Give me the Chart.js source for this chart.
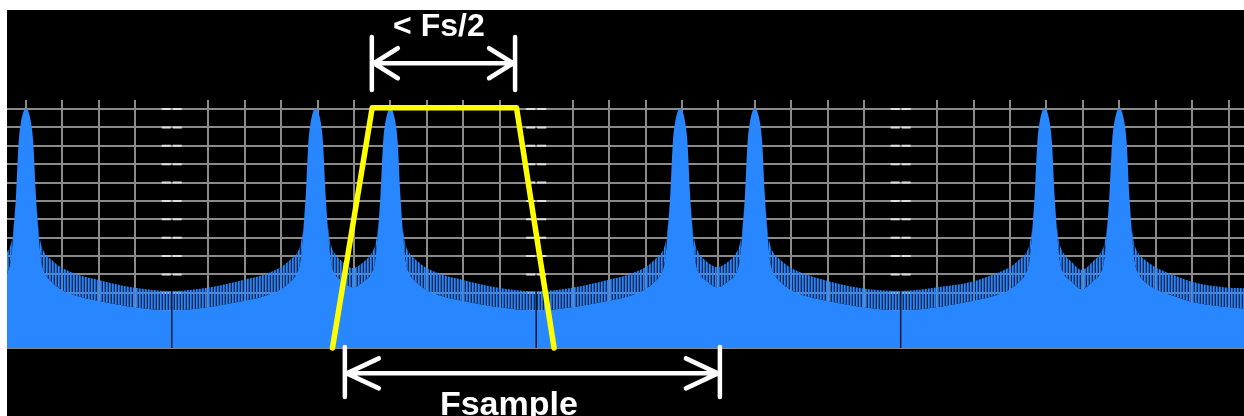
<!DOCTYPE html>
<html>
<head>
<meta charset="utf-8">
<title>Aliasing spectrum</title>
<script src="https://cdn.jsdelivr.net/npm/chart.js@4.4.1/dist/chart.umd.min.js"></script>
<style>
  html, body { margin: 0; padding: 0; background: #fff; }
  body { width: 1244px; height: 416px; overflow: hidden; position: relative; }
  #wrap { position: absolute; left: 7px; top: 10px; width: 1237px; height: 406px; background: #000; }
  canvas { display: block; }
</style>
</head>
<body>
<div id="wrap"><canvas id="spectrum" width="1237" height="406"></canvas></div>
<script>
// Frequency in grid divisions (10 divisions = Fsample), level in grid divisions
const freqs = [
    -0.52,
    -0.42, -0.35, -0.27, -0.2, -0.14, -0.1, -0.06, 0, 0.06, 0.1, 0.14, 0.2, 0.27, 0.35, 0.42,
    0.52, 0.7, 0.95, 1.45, 2, 2.85, 4, 5.1, 5.95, 6.5, 7.0, 7.25, 7.43,
    7.53, 7.6, 7.68, 7.75, 7.81, 7.85, 7.89, 7.95, 8.01, 8.05, 8.09, 8.15, 8.22, 8.3, 8.37,
    8.47, 8.67, 8.97, 9.28, 9.48,
    9.58, 9.65, 9.73, 9.8, 9.86, 9.9, 9.94, 10, 10.06, 10.1, 10.14, 10.2, 10.27, 10.35, 10.42,
    10.52, 10.7, 10.95, 11.45, 12, 12.85, 14, 15.1, 15.95, 16.5, 17.0, 17.25, 17.43,
    17.53, 17.6, 17.68, 17.75, 17.81, 17.85, 17.89, 17.95, 18.01, 18.05, 18.09, 18.15, 18.22, 18.3, 18.37,
    18.47, 18.67, 18.97, 19.28, 19.48,
    19.58, 19.65, 19.73, 19.8, 19.86, 19.9, 19.94, 20, 20.06, 20.1, 20.14, 20.2, 20.27, 20.35, 20.42,
    20.52, 20.7, 20.95, 21.45, 22, 22.85, 24, 25.1, 25.95, 26.5, 27.0, 27.25, 27.43,
    27.53, 27.6, 27.68, 27.75, 27.81, 27.85, 27.89, 27.95, 28.01, 28.05, 28.09, 28.15, 28.22, 28.3, 28.37,
    28.47, 28.67, 28.97, 29.28, 29.48,
    29.58, 29.65, 29.73, 29.8, 29.86, 29.9, 29.94, 30, 30.06, 30.1, 30.14, 30.2, 30.27, 30.35, 30.42,
    30.52, 30.7, 30.95, 31.45, 32, 32.85, 33.42
];

// top of the comb teeth
const combTop = [
    5.2,
    5.6, 6.4, 8.4, 11.2, 12.25, 12.65, 12.9, 13.05, 12.9, 12.65, 12.25, 11.2, 8.4, 6.4, 5.6,
    5.15, 4.8, 4.4, 3.97, 3.7, 3.32, 3.1, 3.32, 3.7, 3.97, 4.4, 4.8, 5.15,
    5.6, 6.4, 8.4, 11.2, 12.25, 12.65, 12.9, 13.05, 12.9, 12.65, 12.25, 11.2, 8.4, 6.4, 5.6,
    5.15, 4.72, 4.35, 4.72, 5.15,
    5.6, 6.4, 8.4, 11.2, 12.25, 12.65, 12.9, 13.05, 12.9, 12.65, 12.25, 11.2, 8.4, 6.4, 5.6,
    5.15, 4.8, 4.4, 3.97, 3.7, 3.32, 3.08, 3.32, 3.7, 3.97, 4.4, 4.8, 5.15,
    5.6, 6.4, 8.4, 11.2, 12.25, 12.65, 12.9, 13.05, 12.9, 12.65, 12.25, 11.2, 8.4, 6.4, 5.6,
    5.15, 4.72, 4.4, 4.72, 5.15,
    5.6, 6.4, 8.4, 11.2, 12.25, 12.65, 12.9, 13.05, 12.9, 12.65, 12.25, 11.2, 8.4, 6.4, 5.6,
    5.15, 4.8, 4.4, 3.97, 3.65, 3.28, 3.1, 3.33, 3.6, 3.97, 4.4, 4.8, 5.15,
    5.6, 6.4, 8.4, 11.2, 12.25, 12.65, 12.9, 13.05, 12.9, 12.65, 12.25, 11.2, 8.4, 6.4, 5.6,
    5.15, 4.72, 4.25, 4.72, 5.15,
    5.6, 6.4, 8.4, 11.2, 12.25, 12.65, 12.9, 13.05, 12.9, 12.65, 12.25, 11.2, 8.4, 6.4, 5.6,
    5.15, 4.8, 4.45, 4.0, 3.6, 3.3, 3.25
];

// level below which the spectrum is solid
const solidLevel = [
    4.05,
    4.7, 6.1, 8.4, 11.2, 12.25, 12.65, 12.9, 13.05, 12.9, 12.65, 12.25, 11.2, 8.4, 6.1, 4.7,
    4.05, 3.6, 3.2, 2.8, 2.55, 2.25, 2.05, 2.25, 2.55, 2.8, 3.2, 3.6, 4.05,
    4.7, 6.1, 8.4, 11.2, 12.25, 12.65, 12.9, 13.05, 12.9, 12.65, 12.25, 11.2, 8.4, 6.1, 4.7,
    4.05, 3.65, 3.3, 3.65, 4.05,
    4.7, 6.1, 8.4, 11.2, 12.25, 12.65, 12.9, 13.05, 12.9, 12.65, 12.25, 11.2, 8.4, 6.1, 4.7,
    4.05, 3.6, 3.2, 2.8, 2.55, 2.25, 2.05, 2.25, 2.55, 2.8, 3.2, 3.6, 4.05,
    4.7, 6.1, 8.4, 11.2, 12.25, 12.65, 12.9, 13.05, 12.9, 12.65, 12.25, 11.2, 8.4, 6.1, 4.7,
    4.05, 3.65, 3.3, 3.65, 4.05,
    4.7, 6.1, 8.4, 11.2, 12.25, 12.65, 12.9, 13.05, 12.9, 12.65, 12.25, 11.2, 8.4, 6.1, 4.7,
    4.05, 3.6, 3.2, 2.8, 2.55, 2.25, 2.05, 2.25, 2.55, 2.8, 3.2, 3.6, 4.05,
    4.7, 6.1, 8.4, 11.2, 12.25, 12.65, 12.9, 13.05, 12.9, 12.65, 12.25, 11.2, 8.4, 6.1, 4.7,
    4.05, 3.65, 3.2, 3.65, 4.05,
    4.7, 6.1, 8.4, 11.2, 12.25, 12.65, 12.9, 13.05, 12.9, 12.65, 12.25, 11.2, 8.4, 6.1, 4.7,
    4.05, 3.6, 3.25, 2.85, 2.5, 2.25, 2.15
];

// anti-alias filter outline
const filterFreqs = [8.41, 9.5, 13.46, 14.49];
const filterLevels = [0, 13.07, 13.07, 0];

// grid
const gridTicks = [0, 1, 2, 3, 4, 5, 6, 7, 8, 9, 10, 11, 12, 13, 14, 15, 16, 17, 18, 19, 20,
    21, 22, 23, 24, 25, 26, 27, 28, 29, 30, 31, 32, 33];
const panelEdges = [4, 14, 24];

// dimension arrows: [left, right] frequency, bar [from, to] level, shaft level
const halfBandEdges = [9.49, 13.42];
const halfBandBar = [14.04, 16.92];
const halfBandShaft = 15.49;
const halfBandLabel = '< Fs/2';
const halfBandLabelAt = [11.33, 16.95];

const sampleEdges = [8.75, 19.04];
const sampleBar = [0.05, -2.67];
const sampleShaft = -1.38;
const sampleLabel = 'Fsample';
const sampleLabelAt = [13.25, -3.62];

const blue = '#2887ff';
const gridGray = '#8a8a8a';

// striped fill for the comb teeth
function combPattern() {
    const c = document.createElement('canvas');
    c.width = 3;
    c.height = 1;
    const p = c.getContext('2d');
    p.fillStyle = blue;
    p.fillRect(0, 0, 1, 1);
    p.globalAlpha = 0.75;
    p.fillRect(1, 0, 1, 1);
    p.globalAlpha = 0.3;
    p.fillRect(2, 0, 1, 1);
    return p.createPattern(c, 'repeat');
}

// dashes and dark lines on the panel edges
const panelMarks = {
    id: 'panelMarks',
    beforeDatasetsDraw(chart) {
        const { ctx, scales: { x, y } } = chart;
        ctx.save();
        ctx.strokeStyle = '#dedede';
        ctx.lineWidth = 2;
        panelEdges.forEach(edge => {
            const px = x.getPixelForValue(edge);
            y.ticks.forEach(t => {
                if (t.value === 0) return;
                const py = y.getPixelForValue(t.value);
                ctx.beginPath();
                ctx.moveTo(px - 10, py);
                ctx.lineTo(px - 1, py);
                ctx.moveTo(px + 1, py);
                ctx.lineTo(px + 10, py);
                ctx.stroke();
            });
        });
        ctx.restore();
    },
    afterDatasetsDraw(chart) {
        const { ctx, scales: { x, y } } = chart;
        ctx.save();
        ctx.strokeStyle = '#0a1830';
        ctx.lineWidth = 1.5;
        panelEdges.forEach(edge => {
            const i = freqs.indexOf(edge);
            const px = x.getPixelForValue(edge);
            ctx.beginPath();
            ctx.moveTo(px, y.getPixelForValue(0));
            ctx.lineTo(px, y.getPixelForValue(combTop[i]));
            ctx.stroke();
        });
        ctx.restore();
    }
};

function drawSpan(ctx, x, y, edges, bar, shaft, headLen) {
    const x0 = x.getPixelForValue(edges[0]);
    const x1 = x.getPixelForValue(edges[1]);
    const yb0 = y.getPixelForValue(bar[0]);
    const yb1 = y.getPixelForValue(bar[1]);
    const ys = y.getPixelForValue(shaft);
    ctx.beginPath();
    ctx.moveTo(x0, yb0); ctx.lineTo(x0, yb1);
    ctx.moveTo(x1, yb0); ctx.lineTo(x1, yb1);
    ctx.moveTo(x0 + 2, ys); ctx.lineTo(x1 - 2, ys);
    ctx.moveTo(x0 + headLen, ys - 15); ctx.lineTo(x0 + 2, ys); ctx.lineTo(x0 + headLen, ys + 15);
    ctx.moveTo(x1 - headLen, ys - 15); ctx.lineTo(x1 - 2, ys); ctx.lineTo(x1 - headLen, ys + 15);
    ctx.stroke();
}

// arrows and labels above and below the plot
const annotations = {
    id: 'annotations',
    afterDraw(chart) {
        const { ctx, scales: { x, y } } = chart;
        ctx.save();
        ctx.strokeStyle = '#fff';
        ctx.fillStyle = '#fff';
        ctx.lineCap = 'round';
        ctx.lineJoin = 'round';
        ctx.lineWidth = 4.5;
        drawSpan(ctx, x, y, halfBandEdges, halfBandBar, halfBandShaft, 26);
        drawSpan(ctx, x, y, sampleEdges, sampleBar, sampleShaft, 34);
        ctx.textAlign = 'center';
        ctx.textBaseline = 'alphabetic';
        ctx.font = 'bold 32px "Liberation Sans", Arial, sans-serif';
        ctx.fillText(halfBandLabel, x.getPixelForValue(halfBandLabelAt[0]), y.getPixelForValue(halfBandLabelAt[1]));
        ctx.font = 'bold 34px "Liberation Sans", Arial, sans-serif';
        ctx.fillText(sampleLabel, x.getPixelForValue(sampleLabelAt[0]), y.getPixelForValue(sampleLabelAt[1]));
        ctx.restore();
    }
};

const ctx = document.getElementById('spectrum').getContext('2d');
const hidden = 'rgba(0,0,0,0)';

new Chart(ctx, {
    type: 'line',
    data: {
        datasets: [
            {
                label: 'Filter',
                data: filterFreqs.map((f, i) => ({ x: f, y: filterLevels[i] })),
                borderColor: '#ffff00',
                borderWidth: 5.5,
                borderCapStyle: 'round',
                borderJoinStyle: 'round',
                pointRadius: 0,
                fill: false,
                tension: 0,
                clip: false
            },
            {
                label: 'Comb',
                data: freqs.map((f, i) => ({ x: f, y: combTop[i] })),
                borderColor: hidden,
                borderWidth: 0,
                pointRadius: 0,
                fill: '+1',
                backgroundColor: combPattern(),
                cubicInterpolationMode: 'monotone',
                clip: false
            },
            {
                label: 'Solid',
                data: freqs.map((f, i) => ({ x: f, y: solidLevel[i] })),
                borderColor: hidden,
                borderWidth: 0,
                pointRadius: 0,
                fill: 'origin',
                backgroundColor: blue,
                cubicInterpolationMode: 'monotone',
                clip: false
            }
        ]
    },
    options: {
        responsive: false,
        animation: false,
        devicePixelRatio: 1,
        layout: { padding: { top: 90, bottom: 68, left: 0, right: 0 } },
        plugins: {
            legend: { display: false },
            tooltip: { enabled: false }
        },
        scales: {
            x: {
                type: 'linear',
                position: 'top',
                min: -0.52,
                max: 33.42,
                afterBuildTicks: scale => {
                    scale.ticks = gridTicks.map(v => ({ value: v }));
                },
                ticks: { display: false },
                grid: {
                    color: c => panelEdges.includes(c.tick && c.tick.value) ? hidden : gridGray,
                    lineWidth: 2,
                    drawTicks: true,
                    tickLength: 9
                },
                border: { display: false }
            },
            y: {
                min: 0,
                max: 13,
                ticks: { display: false, stepSize: 1 },
                grid: { color: gridGray, lineWidth: 2, drawTicks: false },
                border: { display: false }
            }
        }
    },
    plugins: [panelMarks, annotations]
});
</script>
</body>
</html>
